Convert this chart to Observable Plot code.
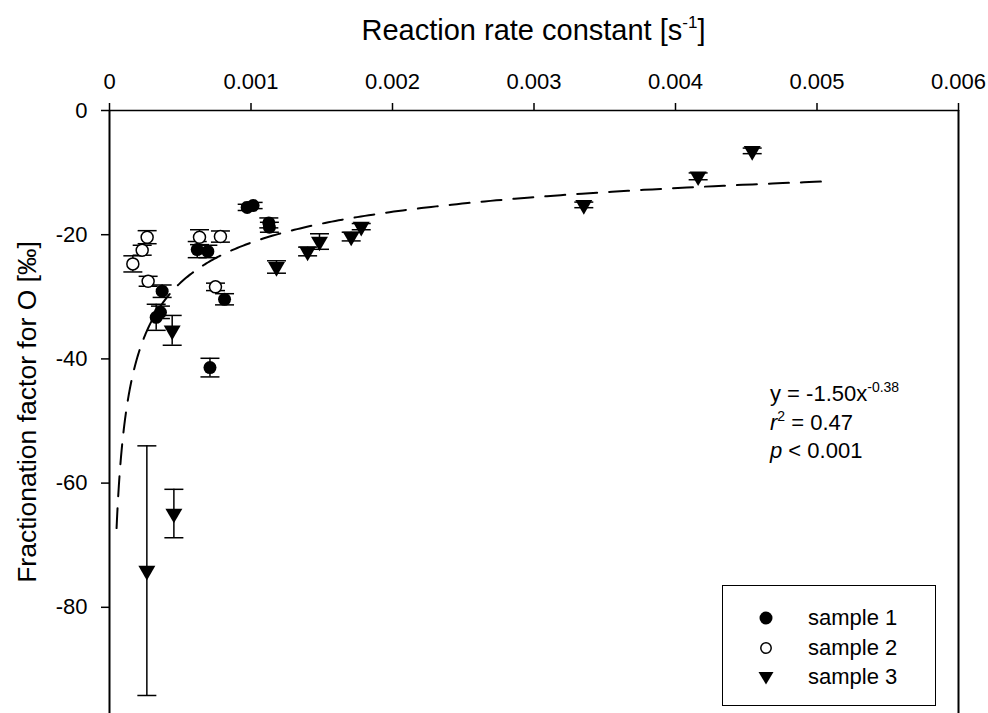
<!DOCTYPE html>
<html>
<head>
<meta charset="utf-8">
<script src="https://cdn.jsdelivr.net/npm/d3@7"></script>
<script src="https://cdn.jsdelivr.net/npm/@observablehq/plot@0.6"></script>
<style>
  html, body { margin: 0; padding: 0; background: #fff; }
  #wrap { position: relative; width: 988px; height: 713px; overflow: hidden; font-family: "Liberation Sans", Arial, sans-serif; color: #000; }
  #title { position: absolute; left: 109px; width: 849px; top: 16px; text-align: center; font-size: 29px; line-height: 1; white-space: nowrap; }
  #title sup { font-size: 17px; vertical-align: 0; position: relative; top: -12px; }
  #annot { position: absolute; left: 770px; top: 381px; font-size: 22px; line-height: 26.5px; white-space: nowrap; }
  #annot sup { font-size: 14px; position: relative; top: -9px; vertical-align: 0; }
  #legend { position: absolute; left: 722px; top: 585px; width: 214px; height: 121px; border: 1.5px solid #000; box-sizing: border-box; font-size: 22px; }
  #legend .row { position: absolute; left: 0; height: 30px; line-height: 30px; white-space: nowrap; }
  #legend svg { position: absolute; left: 35px; top: 7px; }
  #legend span { position: absolute; left: 85px; }
</style>
</head>
<body>
<div id="wrap">
  <div id="chart"></div>
  <div id="title">Reaction rate constant [s<sup>-1</sup>]</div>
  <div id="annot"></div>
  <div id="legend"></div>
</div>
<script>
// ---- data ----
const xTicks = [0, 0.001, 0.002, 0.003, 0.004, 0.005, 0.006];
const yTicks = [0, -20, -40, -60, -80];
const xLabel = "Reaction rate constant";
const yLabel = "Fractionation factor for O [‰]";
const seriesNames = ["sample 1", "sample 2", "sample 3"];

const sample1X = [0.000330, 0.000360, 0.000372, 0.000620, 0.000695, 0.000710, 0.000813, 0.000973, 0.001015, 0.001126, 0.001130];
const sample1Y = [-33.3, -32.5, -29.1, -22.4, -22.7, -41.4, -30.4, -15.6, -15.3, -18.1, -18.8];
const sample1E = [2.1, 1.0, 1.0, 1.3, 1.0, 1.5, 0.9, 0.5, 0.5, 0.8, 0.8];

const sample2X = [0.000165, 0.000231, 0.000266, 0.000273, 0.000636, 0.000749, 0.000784];
const sample2Y = [-24.7, -22.5, -20.4, -27.5, -20.4, -28.4, -20.3];
const sample2E = [1.3, 0.8, 1.05, 0.8, 1.2, 0.6, 0.9];

const sample3X = [0.000264, 0.000443, 0.000455, 0.001180, 0.001400, 0.001484, 0.001708, 0.001779, 0.003352, 0.004160, 0.004542];
const sample3Y = [-74.1, -35.4, -64.9, -25.2, -22.7, -21.1, -20.3, -18.7, -15.2, -10.6, -6.5];
const sample3E = [20.1, 2.4, 3.9, 1.0, 0.7, 1.25, 0.7, 0.5, 0.45, 0.55, 0.45];

// fitted power law shown on the chart (y = -1.50 x^-0.38, exponent unrounded for the drawn curve)
const fitA = -1.50, fitB = -0.384;
const fitXRange = [0.00005, 0.00506];
const fitText = { eq: "-1.50x", exp: "-0.38", r2: "0.47", p: "0.001" };

// ---- build tables ----
function table(xs, ys, es, name) {
  return xs.map((x, i) => ({ x, y: ys[i], lo: ys[i] - es[i], hi: ys[i] + es[i], series: name }));
}
const s1 = table(sample1X, sample1Y, sample1E, seriesNames[0]);
const s2 = table(sample2X, sample2Y, sample2E, seriesNames[1]);
const s3 = table(sample3X, sample3Y, sample3E, seriesNames[2]);
const all = [...s1, ...s2, ...s3];

const nFit = 300;
const fit = d3.range(nFit + 1).map(i => {
  const x = fitXRange[0] * Math.pow(fitXRange[1] / fitXRange[0], i / nFit);
  return { x, y: fitA * Math.pow(x, fitB) };
});

// horizontal cap symbol for error bars
const capSymbol = { draw(ctx) { ctx.moveTo(-9.5, 0); ctx.lineTo(9.5, 0); } };

const font = "Liberation Sans, Arial, sans-serif";

const chart = Plot.plot({
  width: 988,
  height: 713,
  marginLeft: 109,
  marginRight: 30,
  marginTop: 110,
  marginBottom: 0,
  style: { fontFamily: font, fontSize: "22px", background: "#fff", color: "#000", overflow: "visible" },
  x: { domain: [0, 0.006], ticks: xTicks },
  y: { domain: [-97.1, 0], ticks: yTicks },
  marks: [
    Plot.axisX({ anchor: "top", ticks: xTicks, tickSize: 8, tickPadding: 14, tickFormat: d => String(d), fontSize: 22, label: null, strokeWidth: 1.5 }),
    Plot.axisY({ anchor: "left", ticks: yTicks, tickSize: 8, tickPadding: 14, tickFormat: d => String(d), fontSize: 22, label: null, strokeWidth: 1.5 }),
    Plot.ruleY([0], { stroke: "#000", strokeWidth: 1.5 }),
    Plot.ruleX([0, 0.006], { y1: -97.1, y2: 0, stroke: "#000", strokeWidth: 2 }),
    Plot.text([yLabel], { frameAnchor: "left", rotate: -90, dx: -82, fontSize: 26.5, textAnchor: "middle" }),
    Plot.line(fit, { x: "x", y: "y", stroke: "#000", strokeWidth: 2, strokeDasharray: "20,12" }),
    Plot.ruleX(all, { x: "x", y1: "lo", y2: "hi", stroke: "#000", strokeWidth: 1.5 }),
    Plot.dot(all, { x: "x", y: "lo", symbol: capSymbol, stroke: "#000", strokeWidth: 1.5, r: 5 }),
    Plot.dot(all, { x: "x", y: "hi", symbol: capSymbol, stroke: "#000", strokeWidth: 1.5, r: 5 }),
    Plot.dot(s3, { x: "x", y: "y", symbol: "triangle", rotate: 180, r: 6.3, fill: "#000", stroke: "none" }),
    Plot.dot(s1, { x: "x", y: "y", symbol: "circle", r: 6.5, fill: "#000", stroke: "none" }),
    Plot.dot(s2, { x: "x", y: "y", symbol: "circle", r: 6, fill: "#fff", stroke: "#000", strokeWidth: 1.5 })
  ]
});
document.getElementById("chart").appendChild(chart);

// annotation
document.getElementById("annot").innerHTML =
  `y = ${fitText.eq}<sup>${fitText.exp}</sup><br><i>r</i><sup>2</sup> = ${fitText.r2}<br><i>p</i> &lt; ${fitText.p}`;

// legend
const legendSymbols = [
  `<circle cx="8" cy="8" r="6.5" fill="#000"/>`,
  `<circle cx="8" cy="8" r="5.2" fill="#fff" stroke="#000" stroke-width="1.5"/>`,
  `<path d="M0.5,3 L15.5,3 L8,15.5 Z" fill="#000"/>`
];
const legend = document.getElementById("legend");
seriesNames.forEach((name, i) => {
  const row = document.createElement("div");
  row.className = "row";
  row.style.top = (17 + i * 29.5) + "px";
  row.style.width = "100%";
  row.innerHTML = `<svg width="16" height="18" viewBox="0 0 16 18">${legendSymbols[i]}</svg><span>${name}</span>`;
  legend.appendChild(row);
});
</script>
</body>
</html>
